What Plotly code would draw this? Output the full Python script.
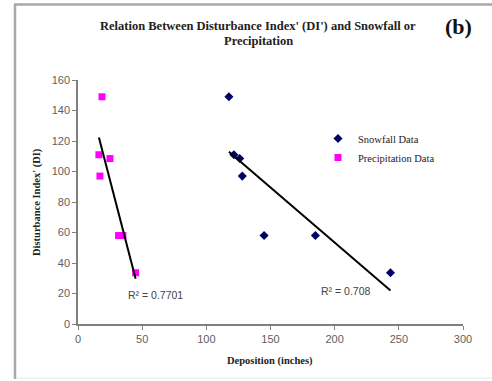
import numpy as np
import plotly.graph_objects as go

# ---- data ----
di_values = [149, 111, 108.5, 97, 58, 58, 33.6]
snowfall_x = [117.6, 121.5, 126.0, 128.0, 145.0, 185.0, 243.5]
precip_x = [18.7, 16.3, 24.9, 17.1, 31.6, 35.0, 44.9]
snow_r2_label = "R² = 0.708"
precip_r2_label = "R² = 0.7701"
x_ticks = [0, 50, 100, 150, 200, 250, 300]
y_ticks = [0, 20, 40, 60, 80, 100, 120, 140, 160]

W, H = 492, 381
L, R, T, B = 78, 29, 80, 57
pw, ph = W - L - R, H - T - B


def px(x):
    return (x - L) / pw


def py(y):
    return (H - B - y) / ph


def trend(xs, ys):
    m, c = np.polyfit(xs, ys, 1)
    xx = np.array([min(xs), max(xs)])
    return xx, m * xx + c


fig = go.Figure()
fig.add_trace(go.Scatter(
    x=snowfall_x, y=di_values, mode="markers", name="Snowfall Data",
    marker=dict(symbol="diamond", size=7, color="#000066")))
fig.add_trace(go.Scatter(
    x=precip_x, y=di_values, mode="markers", name="Precipitation Data",
    marker=dict(symbol="square", size=7, color="#ff00ff")))

sx, sy = trend(snowfall_x, di_values)
fig.add_trace(go.Scatter(x=sx, y=sy, mode="lines", showlegend=False,
                         line=dict(color="black", width=2)))
qx, qy = trend(precip_x, di_values)
fig.add_trace(go.Scatter(x=qx, y=qy, mode="lines", showlegend=False,
                         line=dict(color="black", width=2)))

axis_common = dict(showgrid=False, zeroline=False, showline=True,
                   linecolor="#808080", linewidth=1.5, ticks="outside",
                   ticklen=4, tickcolor="#808080",
                   tickfont=dict(family="Liberation Sans, Arial", size=11, color="#606060"))
fig.update_xaxes(range=[0, 300], tickvals=x_ticks, **axis_common)
fig.update_yaxes(range=[0, 160], tickvals=y_ticks, **axis_common)

serif = "Liberation Serif, Times New Roman, serif"
ann = [
    dict(text="<b>Relation Between Disturbance Index' (DI') and Snowfall or</b>",
         x=px(258), y=py(26), font=dict(family=serif, size=12.5, color="#222")),
    dict(text="<b>Precipitation</b>",
         x=px(258), y=py(41), font=dict(family=serif, size=12.5, color="#222")),
    dict(text="<b>(b)</b>", x=px(458), y=py(26),
         font=dict(family=serif, size=22, color="#111")),
    dict(text="<b>Disturbance Index' (DI)</b>", x=px(37), y=py(202), textangle=-90,
         font=dict(family=serif, size=10.5, color="#222")),
    dict(text="<b>Deposition (inches)</b>", x=px(270), y=py(361),
         font=dict(family=serif, size=10.5, color="#222")),
    dict(text=precip_r2_label, x=px(155), y=py(295),
         font=dict(family="Liberation Sans, Arial", size=10.5, color="#444")),
    dict(text=snow_r2_label, x=px(345), y=py(291),
         font=dict(family="Liberation Sans, Arial", size=10.5, color="#444")),
]
for a in ann:
    a.update(xref="paper", yref="paper", showarrow=False,
             xanchor="center", yanchor="middle")
fig.update_layout(annotations=ann)

# outer frame (left, top, bottom)
bc = "#a8a8a8"
fig.add_shape(type="line", xref="paper", yref="paper", x0=px(15), x1=px(15),
              y0=py(4.5), y1=py(379), line=dict(color=bc, width=2.5))
fig.add_shape(type="line", xref="paper", yref="paper", x0=px(14), x1=px(493),
              y0=py(4.5), y1=py(4.5), line=dict(color=bc, width=2.5))
fig.add_shape(type="line", xref="paper", yref="paper", x0=px(16), x1=px(493),
              y0=py(378), y1=py(378), line=dict(color="#e8e8e8", width=1))

fig.update_layout(
    width=W, height=H,
    margin=dict(l=L, r=R, t=T, b=B),
    paper_bgcolor="white", plot_bgcolor="white",
    showlegend=True,
    legend=dict(x=px(318), y=py(124), xanchor="left", yanchor="top",
                bgcolor="rgba(0,0,0,0)", itemwidth=30, tracegroupgap=0,
                font=dict(family=serif, size=10.5, color="#222")),
)

fig.write_html("out.html")
